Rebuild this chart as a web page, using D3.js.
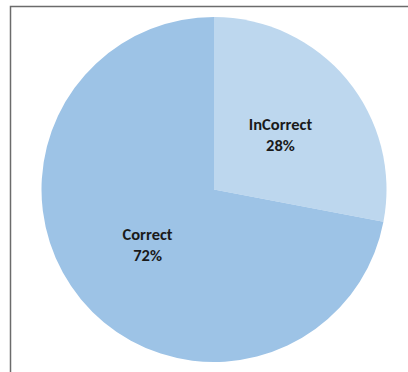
<!DOCTYPE html>
<html>
<head>
<meta charset="utf-8">
<script src="https://cdn.jsdelivr.net/npm/d3@7"></script>
<style>
  html, body { margin: 0; padding: 0; background: #fff; }
  svg { display: block; }
</style>
</head>
<body>
<svg id="chart" width="408" height="372"></svg>
<script>
// Answer breakdown
const categories = ["InCorrect", "Correct"];
const values = [28, 72];
const colors = ["#BDD7EE", "#9DC3E6"];

const svg = d3.select("#chart");
const W = 408, H = 372;

// chart frame (open on the right and bottom)
svg.append("path")
  .attr("d", `M10.5,${H + 2} L10.5,6.5 L${W + 2},6.5`)
  .attr("fill", "none")
  .attr("stroke", "#6b6b6b")
  .attr("stroke-width", 1.5);

const cx = 214, cy = 189.5, r = 172.5;

const pie = d3.pie().sort(null).value(d => d.value);
const data = pie(categories.map((c, i) => ({ name: c, value: values[i], color: colors[i] })));

const arc = d3.arc().innerRadius(0).outerRadius(r);
const labelArc = d3.arc().innerRadius(r * 0.5).outerRadius(r * 0.5);

const g = svg.append("g").attr("transform", `translate(${cx},${cy})`);

g.selectAll("path.slice")
  .data(data)
  .join("path")
  .attr("class", "slice")
  .attr("d", arc)
  .attr("fill", d => d.data.color);

const total = d3.sum(values);
const labels = g.selectAll("text.lbl")
  .data(data)
  .join("text")
  .attr("class", "lbl")
  .attr("transform", d => `translate(${labelArc.centroid(d)})`)
  .attr("text-anchor", "middle")
  .attr("font-family", "Carlito, 'Liberation Sans', Arial, sans-serif")
  .attr("font-size", 16.5)
  .attr("font-weight", "bold")
  .attr("fill", "#1a1a1a");

labels.append("tspan")
  .attr("x", 0).attr("y", -4.5)
  .text(d => d.data.name);
labels.append("tspan")
  .attr("x", 0).attr("y", 16.8)
  .text(d => Math.round(d.data.value / total * 100) + "%");
</script>
</body>
</html>
